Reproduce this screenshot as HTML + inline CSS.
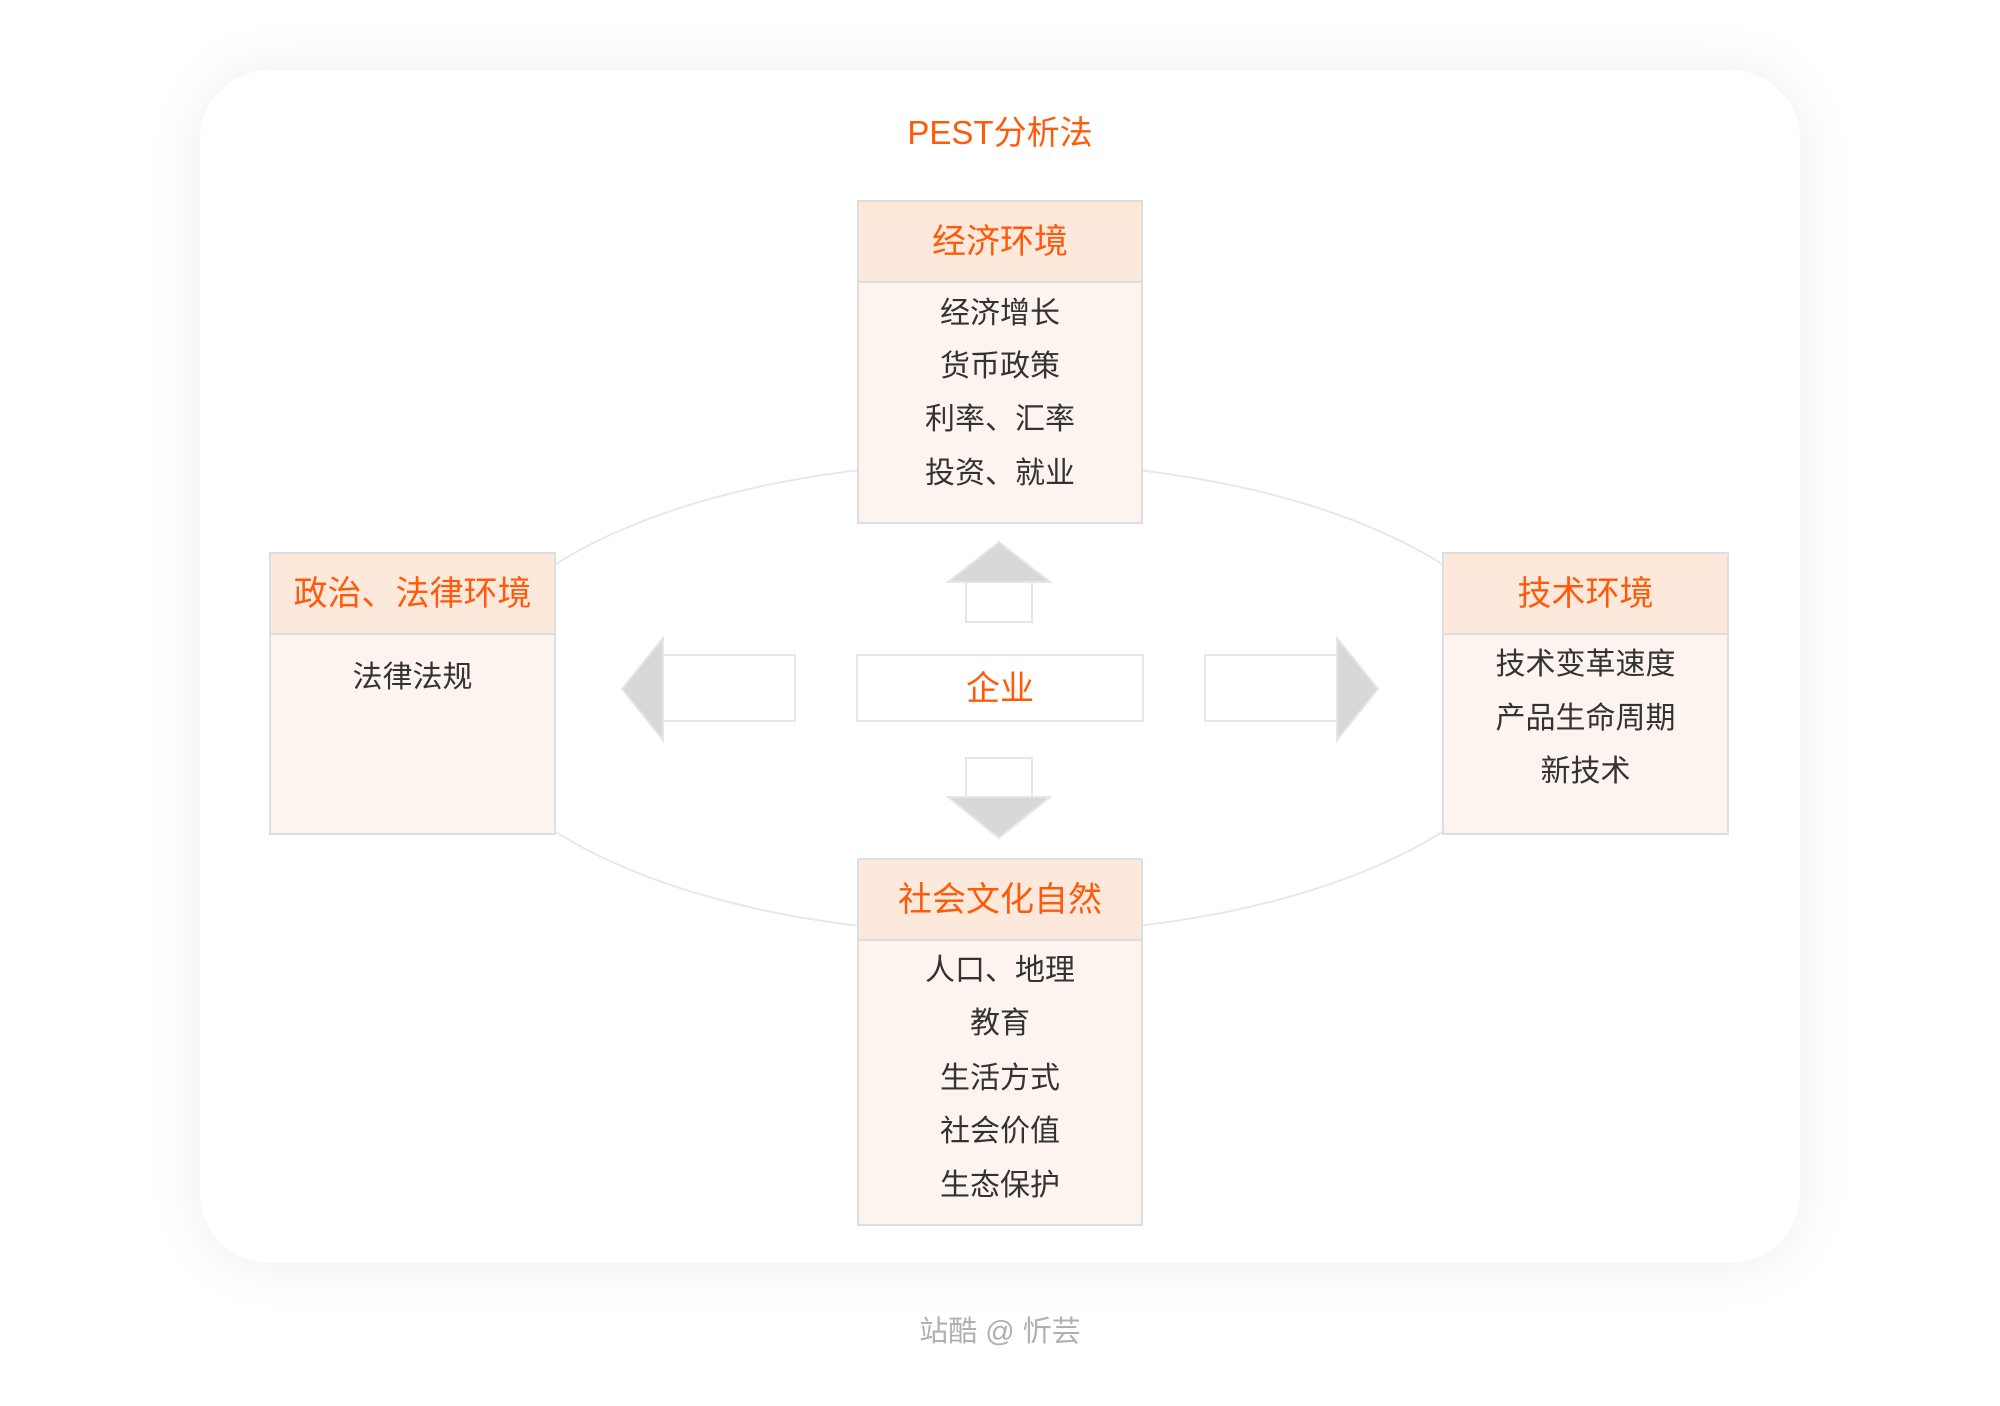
<!DOCTYPE html>
<html><head><meta charset="utf-8"><style>
html,body{margin:0;padding:0;background:#fff;}
body{width:2000px;height:1406px;position:relative;overflow:hidden;font-family:"Liberation Sans","Noto Sans CJK SC",sans-serif;}
.card{position:absolute;left:200px;top:70px;width:1600px;height:1193px;border-radius:70px;background:#fff;box-shadow:0 0 60px rgba(0,0,0,0.07);}
.t{position:absolute;width:100%;text-align:center;line-height:1;}
.box{position:absolute;border:2px solid #dedede;background:#fdf4ef;box-sizing:border-box;}
.hd{position:absolute;left:0;right:0;top:0;background:#fde8dc;border-bottom:2px solid #dedede;color:#ff5a0a;font-size:34px;text-align:center;}
.it{position:absolute;left:0;right:0;text-align:center;color:#333;font-size:30px;line-height:1;}
</style></head><body>
<div class="card"></div>
<svg width="2000" height="1406" style="position:absolute;left:0;top:0">
<ellipse cx="999" cy="698" rx="538" ry="236" fill="none" stroke="#e8e8e8" stroke-width="2"/>
<g fill="#d8d8d8" stroke="#e6e6e6" stroke-width="2">
<polygon points="999,542 948,582 1050,582"/>
<polygon points="999,838 948,797 1050,797"/>
<polygon points="622,689 663,638 663,740"/>
<polygon points="1378,689 1337,638 1337,740"/>
</g>
<g fill="#fff" stroke="#e6e6e6" stroke-width="2">
<rect x="966" y="582" width="66" height="40"/>
<rect x="966" y="758" width="66" height="39"/>
<rect x="663" y="655" width="132" height="66"/>
<rect x="1205" y="655" width="132" height="66"/>
<rect x="857" y="655" width="286" height="66"/>
</g>
</svg>
<div class="t" style="top:116px;font-size:33px;color:#ff5a0a;">PEST分析法</div>
<div class="t" style="top:672px;font-size:34px;color:#ff5a0a;">企业</div>

<div class="box" style="left:857px;top:200px;width:286px;height:324px;">
<div class="hd" style="height:79px;line-height:81px;">经济环境</div>
<div class="it" style="top:97px">经济增长</div>
<div class="it" style="top:150px">货币政策</div>
<div class="it" style="top:203px">利率、汇率</div>
<div class="it" style="top:257px">投资、就业</div>
</div>

<div class="box" style="left:269px;top:552px;width:287px;height:283px;">
<div class="hd" style="height:79px;line-height:81px;">政治、法律环境</div>
<div class="it" style="top:109px">法律法规</div>
</div>

<div class="box" style="left:1442px;top:552px;width:287px;height:283px;">
<div class="hd" style="height:79px;line-height:81px;">技术环境</div>
<div class="it" style="top:96px">技术变革速度</div>
<div class="it" style="top:150px">产品生命周期</div>
<div class="it" style="top:203px">新技术</div>
</div>

<div class="box" style="left:857px;top:858px;width:286px;height:368px;">
<div class="hd" style="height:79px;line-height:81px;">社会文化自然</div>
<div class="it" style="top:96px">人口、地理</div>
<div class="it" style="top:149px">教育</div>
<div class="it" style="top:204px">生活方式</div>
<div class="it" style="top:257px">社会价值</div>
<div class="it" style="top:311px">生态保护</div>
</div>

<div class="t" style="top:1318px;font-size:29px;color:#b0b0b0;">站酷 @ 忻芸</div>
</body></html>
